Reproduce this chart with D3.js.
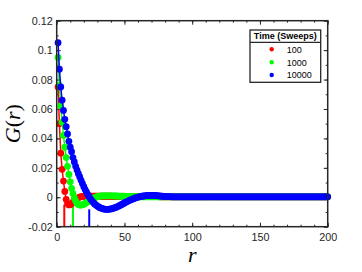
<!DOCTYPE html>
<html><head><meta charset="utf-8">
<script src="https://cdn.jsdelivr.net/npm/d3@7"></script>
<style>body{margin:0;background:#fff}svg{display:block}</style>
</head><body>
<svg id="c" width="362" height="272"></svg>
<script>
const seriesNames = ["100", "1000", "10000"];
const seriesColors = ["#ff0000", "#00ff00", "#0000ff"];
const rValues = d3.range(1, 201);
const g100 = [
 0.075,0.05,0.03,0.019,0.011,0.004,-0.0015,-0.0043,-0.0052,-0.005,
 -0.0043,-0.0034,-0.0025,-0.0016,-0.0009,-0.0003,0.0001,0.0004,0.0006,0.0007,
 0.0008,0.0008,0.0008,0.0008,0.0008,0.0008,0.0008,0.0008,0.0008,0.0008,
 0.0007,0.0007,0.0007,0.0007,0.0007,0.0007,0.0007,0.0007,0.0007,0.0007,
 0.0006,0.0006,0.0006,0.0006,0.0006,0.0006,0.0006,0.0006,0.0006,0.0006,
 0.0005,0.0005,0.0005,0.0005,0.0005,0.0005,0.0005,0.0005,0.0005,0.0005,
 0.0004,0.0004,0.0004,0.0004,0.0004,0.0004,0.0004,0.0004,0.0004,0.0004,
 0.0004,0.0004,0.0004,0.0004,0.0004,0.0003,0.0003,0.0003,0.0003,0.0003,
 0.0003,0.0003,0.0003,0.0003,0.0003,0.0003,0.0003,0.0003,0.0003,0.0003,
 0.0003,0.0003,0.0003,0.0003,0.0003,0.0003,0.0003,0.0003,0.0003,0.0003,
 0.0003,0.0003,0.0003,0.0003,0.0003,0.0003,0.0003,0.0003,0.0003,0.0003,
 0.0003,0.0003,0.0003,0.0003,0.0003,0.0003,0.0003,0.0003,0.0003,0.0003,
 0.0003,0.0003,0.0003,0.0003,0.0003,0.0003,0.0003,0.0003,0.0003,0.0003,
 0.0003,0.0003,0.0003,0.0003,0.0003,0.0003,0.0003,0.0003,0.0003,0.0003,
 0.0003,0.0003,0.0003,0.0003,0.0003,0.0003,0.0003,0.0003,0.0003,0.0003,
 0.0003,0.0003,0.0003,0.0003,0.0003,0.0003,0.0003,0.0003,0.0003,0.0003,
 0.0003,0.0003,0.0003,0.0003,0.0003,0.0003,0.0003,0.0003,0.0003,0.0003,
 0.0003,0.0003,0.0003,0.0003,0.0003,0.0003,0.0003,0.0003,0.0003,0.0003,
 0.0003,0.0003,0.0003,0.0003,0.0003,0.0003,0.0003,0.0003,0.0003,0.0003,
 0.0003,0.0003,0.0003,0.0003,0.0003,0.0003,0.0003,0.0003,0.0003,0.0003
];
const g1000 = [
 0.095,0.076,0.062,0.051,0.042,0.034,0.027,0.021,0.0155,0.0105,
 0.006,0.0025,-0.0005,-0.0025,-0.004,-0.0049,-0.0053,-0.0053,-0.0051,-0.0047,
 -0.0042,-0.0036,-0.003,-0.0024,-0.0018,-0.0012,-0.0007,-0.0003,0.0001,0.0004,
 0.0006,0.0008,0.0009,0.001,0.001,0.001,0.001,0.001,0.001,0.001,
 0.001,0.0009,0.0009,0.0009,0.0008,0.0008,0.0008,0.0007,0.0007,0.0007,
 0.0006,0.0006,0.0006,0.0005,0.0005,0.0005,0.0004,0.0004,0.0004,0.0004,
 0.0003,0.0003,0.0003,0.0003,0.0003,0.0003,0.0003,0.0003,0.0003,0.0003,
 0.0003,0.0003,0.0003,0.0003,0.0003,0.0003,0.0003,0.0003,0.0003,0.0003,
 0.0003,0.0003,0.0003,0.0003,0.0003,0.0003,0.0003,0.0003,0.0003,0.0003,
 0.0003,0.0003,0.0003,0.0003,0.0003,0.0003,0.0003,0.0003,0.0003,0.0003,
 0.0003,0.0003,0.0003,0.0003,0.0003,0.0003,0.0003,0.0003,0.0003,0.0003,
 0.0003,0.0003,0.0003,0.0003,0.0003,0.0003,0.0003,0.0003,0.0003,0.0003,
 0.0003,0.0003,0.0003,0.0003,0.0003,0.0003,0.0003,0.0003,0.0003,0.0003,
 0.0003,0.0003,0.0003,0.0003,0.0003,0.0003,0.0003,0.0003,0.0003,0.0003,
 0.0003,0.0003,0.0003,0.0003,0.0003,0.0003,0.0003,0.0003,0.0003,0.0003,
 0.0003,0.0003,0.0003,0.0003,0.0003,0.0003,0.0003,0.0003,0.0003,0.0003,
 0.0003,0.0003,0.0003,0.0003,0.0003,0.0003,0.0003,0.0003,0.0003,0.0003,
 0.0003,0.0003,0.0003,0.0003,0.0003,0.0003,0.0003,0.0003,0.0003,0.0003,
 0.0003,0.0003,0.0003,0.0003,0.0003,0.0003,0.0003,0.0003,0.0003,0.0003,
 0.0003,0.0003,0.0003,0.0003,0.0003,0.0003,0.0003,0.0003,0.0003,0.0003
];
const g10000 = [
 0.105,0.087,0.075,0.066,0.059,0.053,0.048,0.043,0.038,0.034,
 0.031,0.027,0.024,0.021,0.0185,0.016,0.0138,0.0115,0.0093,0.0072,
 0.0052,0.0034,0.0017,0.0002,-0.0012,-0.0024,-0.0035,-0.0045,-0.0053,-0.006,
 -0.0066,-0.0071,-0.0075,-0.0078,-0.008,-0.0082,-0.0082,-0.0082,-0.0081,-0.0079,
 -0.0077,-0.0074,-0.0071,-0.0067,-0.0063,-0.0059,-0.0054,-0.0049,-0.0044,-0.0039,
 -0.0034,-0.0029,-0.0024,-0.002,-0.0016,-0.0012,-0.0008,-0.0005,-0.0002,0.0001,
 0.0003,0.0005,0.0007,0.0009,0.001,0.0011,0.0012,0.0012,0.0013,0.0013,
 0.0013,0.0012,0.0012,0.0011,0.001,0.0009,0.0008,0.0007,0.0006,0.0005,
 0.0005,0.0004,0.0004,0.0004,0.0003,0.0003,0.0003,0.0003,0.0003,0.0003,
 0.0003,0.0003,0.0003,0.0003,0.0003,0.0003,0.0003,0.0003,0.0003,0.0003,
 0.0003,0.0003,0.0003,0.0003,0.0003,0.0003,0.0003,0.0003,0.0003,0.0003,
 0.0003,0.0003,0.0003,0.0003,0.0003,0.0003,0.0003,0.0003,0.0003,0.0003,
 0.0003,0.0003,0.0003,0.0003,0.0003,0.0003,0.0003,0.0003,0.0003,0.0003,
 0.0003,0.0003,0.0003,0.0003,0.0003,0.0003,0.0003,0.0003,0.0003,0.0003,
 0.0003,0.0003,0.0003,0.0003,0.0003,0.0003,0.0003,0.0003,0.0003,0.0003,
 0.0003,0.0003,0.0003,0.0003,0.0003,0.0003,0.0003,0.0003,0.0003,0.0003,
 0.0003,0.0003,0.0003,0.0003,0.0003,0.0003,0.0003,0.0003,0.0003,0.0003,
 0.0003,0.0003,0.0003,0.0003,0.0003,0.0003,0.0003,0.0003,0.0003,0.0003,
 0.0003,0.0003,0.0003,0.0003,0.0003,0.0003,0.0003,0.0003,0.0003,0.0003,
 0.0003,0.0003,0.0003,0.0003,0.0003,0.0003,0.0003,0.0003,0.0003,0.0003
];
const crossR = [5.6, 12, 24];
const crossTop = [-0.005, -0.0053, -0.0082];
const xTicks = [0, 50, 100, 150, 200];
const xMinorTicks = [0,10,20,30,40,50,60,70,80,90,100,110,120,130,140,150,160,170,180,190,200];
const yTicks = [-0.02, 0, 0.02, 0.04, 0.06, 0.08, 0.1, 0.12];
const yTickLabels = ["-0.02", "0", "0.02", "0.04", "0.06", "0.08", "0.1", "0.12"];
const yMinorTicks = [-0.02,-0.01,0,0.01,0.02,0.03,0.04,0.05,0.06,0.07,0.08,0.09,0.1,0.11,0.12];
const legendTitle = "Time (Sweeps)";

const allSeries = [g100, g1000, g10000];
const box = {l: 56.7, r: 327.7, t: 20.7, b: 226.7};
const axisColor = "#262626";
const x = d3.scaleLinear().domain([0, 200]).range([box.l, box.r]);
const y = d3.scaleLinear().domain([-0.02, 0.12]).range([box.b, box.t]);
const svg = d3.select("#c");

function styleAxis(g) {
  g.select(".domain").remove();
  g.selectAll("line").attr("stroke", axisColor).attr("stroke-width", 1);
  g.selectAll("text").attr("fill", axisColor)
    .style("font-family", "'Liberation Sans', Arial, sans-serif").style("font-size", "10.8px");
}
svg.append("g").attr("transform", `translate(0,${box.b})`)
  .call(d3.axisBottom(x).tickValues(xTicks).tickSizeInner(-4).tickSizeOuter(0).tickPadding(6.5).tickFormat(d3.format("d")))
  .call(styleAxis);
svg.append("g").attr("transform", `translate(0,${box.b})`)
  .call(d3.axisBottom(x).tickValues(xMinorTicks).tickSizeInner(-2).tickSizeOuter(0).tickFormat(""))
  .call(styleAxis);
svg.append("g").attr("transform", `translate(0,${box.t})`)
  .call(d3.axisTop(x).tickValues(xTicks).tickSizeInner(-4).tickSizeOuter(0).tickFormat(""))
  .call(styleAxis);
svg.append("g").attr("transform", `translate(0,${box.t})`)
  .call(d3.axisTop(x).tickValues(xMinorTicks).tickSizeInner(-2).tickSizeOuter(0).tickFormat(""))
  .call(styleAxis);
svg.append("g").attr("transform", `translate(${box.l},0)`)
  .call(d3.axisLeft(y).tickValues(yTicks).tickSizeInner(-4).tickSizeOuter(0).tickPadding(4)
    .tickFormat((d, i) => yTickLabels[i]))
  .call(styleAxis);
svg.append("g").attr("transform", `translate(${box.l},0)`)
  .call(d3.axisLeft(y).tickValues(yMinorTicks).tickSizeInner(-2).tickSizeOuter(0).tickFormat(""))
  .call(styleAxis);
svg.append("g").attr("transform", `translate(${box.r},0)`)
  .call(d3.axisRight(y).tickValues(yTicks).tickSizeInner(-4).tickSizeOuter(0).tickFormat(""))
  .call(styleAxis);
svg.append("g").attr("transform", `translate(${box.r},0)`)
  .call(d3.axisRight(y).tickValues(yMinorTicks).tickSizeInner(-2).tickSizeOuter(0).tickFormat(""))
  .call(styleAxis);

crossR.forEach((r, i) => {
  svg.append("line")
    .attr("x1", x(r)).attr("x2", x(r))
    .attr("y1", y(-0.02)).attr("y2", y(crossTop[i]))
    .attr("stroke", seriesColors[i]).attr("stroke-width", 2);
});

const line = d3.line().x((d, i) => x(rValues[i])).y(d => y(d));
allSeries.forEach((vals, si) => {
  const g = svg.append("g");
  g.append("path").datum(vals).attr("d", line)
    .attr("fill", "none").attr("stroke", seriesColors[si]).attr("stroke-width", 1.5);
  g.selectAll("circle").data(vals).join("circle")
    .attr("cx", (d, i) => x(rValues[i])).attr("cy", d => y(d))
    .attr("r", 3.4).attr("fill", seriesColors[si]);
});

svg.append("rect").attr("x", box.l).attr("y", box.t)
  .attr("width", box.r - box.l).attr("height", box.b - box.t)
  .attr("fill", "none").attr("stroke", axisColor).attr("stroke-width", 1.5);

svg.append("text").attr("x", (box.l + box.r) / 2).attr("y", 262)
  .attr("text-anchor", "middle")
  .style("font-family", "'Liberation Serif', 'Times New Roman', serif")
  .style("font-style", "italic").style("font-size", "22px").attr("fill", "#000").text("r");
const yl = svg.append("text")
  .attr("transform", `translate(20,${(box.t + box.b) / 2}) rotate(-90)`)
  .attr("text-anchor", "middle")
  .style("font-family", "'Liberation Serif', 'Times New Roman', serif")
  .style("font-size", "22px").attr("fill", "#000");
yl.append("tspan").style("font-style", "italic").text("G");
yl.append("tspan").text("(");
yl.append("tspan").style("font-style", "italic").text("r");
yl.append("tspan").text(")");

const lg = svg.append("g");
lg.append("rect").attr("x", 250).attr("y", 30).attr("width", 70.7).attr("height", 52.3)
  .attr("fill", "#fff").attr("stroke", axisColor).attr("stroke-width", 1.3);
lg.append("line").attr("x1", 250).attr("x2", 320.7).attr("y1", 42.3).attr("y2", 42.3)
  .attr("stroke", axisColor).attr("stroke-width", 1.3);
lg.append("text").attr("x", 285.3).attr("y", 39.2).attr("text-anchor", "middle")
  .style("font-family", "'Liberation Sans', Arial, sans-serif").style("font-size", "9px")
  .style("font-weight", "bold").attr("fill", "#000").text(legendTitle);
const legendY = [49.3, 62.3, 75];
seriesNames.forEach((n, i) => {
  lg.append("circle").attr("cx", 271.7).attr("cy", legendY[i]).attr("r", 2.2).attr("fill", seriesColors[i]);
  lg.append("text").attr("x", 286.7).attr("y", legendY[i] + 3.2)
    .style("font-family", "'Liberation Sans', Arial, sans-serif").style("font-size", "9px")
    .attr("fill", "#000").text(n);
});
</script>
</body></html>
